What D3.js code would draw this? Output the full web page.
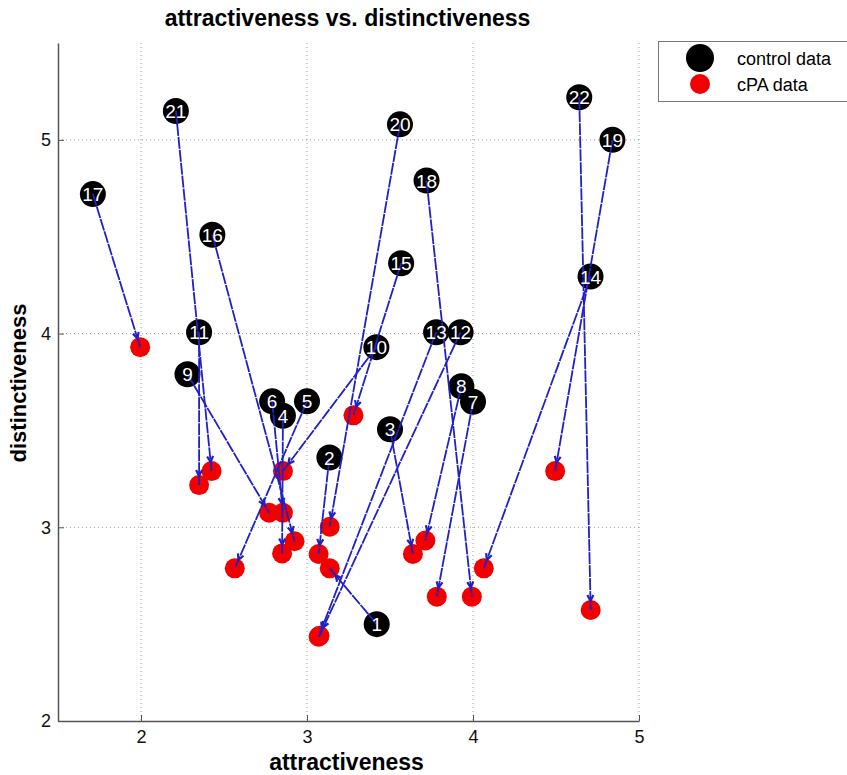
<!DOCTYPE html>
<html>
<head>
<meta charset="utf-8">
<script src="https://cdn.jsdelivr.net/npm/d3@7"></script>
<style>
  body { margin: 0; background: #fff; }
  text { font-family: "Liberation Sans", Arial, sans-serif; }
</style>
</head>
<body>
<svg id="chart" width="847" height="775"></svg>
<script>
// subject numbers
var ids = [1, 2, 3, 4, 5, 6, 7, 8, 9, 10, 11, 12, 13, 14, 15, 16, 17, 18, 19, 20, 21, 22];

// control data (black)
var controlX = [3.42, 3.135, 3.50, 2.855, 3.0, 2.79, 4.0, 3.93, 2.28, 3.418, 2.35,
                3.925, 3.778, 4.708, 3.567, 2.43, 1.71, 3.72, 4.84, 3.56, 2.21, 4.64];
var controlY = [2.50, 3.36, 3.506, 3.576, 3.65, 3.65, 3.648, 3.728, 3.79, 3.93, 4.007,
                4.007, 4.007, 4.294, 4.363, 4.51, 4.72, 4.79, 5.0, 5.08, 5.149, 5.22];

// cPA data (red)
var cpaX = [3.137, 3.07, 3.638, 2.85, 2.565, 2.855, 3.782, 3.713, 2.772, 2.855, 2.35,
            3.075, 3.07, 4.065, 3.28, 2.925, 1.995, 3.993, 4.495, 3.137, 2.425, 4.709];
var cpaY = [2.788, 2.862, 2.862, 2.865, 2.788, 3.075, 2.642, 2.932, 3.075, 3.29, 3.218,
            2.44, 2.435, 2.788, 3.578, 2.928, 3.93, 2.642, 3.29, 3.003, 3.29, 2.573];

var xTicks = [2, 3, 4, 5];
var yTicks = [2, 3, 4, 5];

var svg = d3.select("#chart"),
    LEFT = 58, RIGHT = 639, TOP = 43, BOTTOM = 721;

var x = d3.scaleLinear().domain([1.5, 5]).range([LEFT, RIGHT]);
var y = d3.scaleLinear().domain([2, 5.5]).range([BOTTOM, TOP]);

var data = ids.map(function (id, i) {
    return {id: id, cx: controlX[i], cy: controlY[i], px: cpaX[i], py: cpaY[i]};
});

// dotted grid
var grid = svg.append("g").attr("stroke", "#9a9a9a").attr("stroke-dasharray", "1,3");
grid.selectAll("line.v").data(xTicks).enter().append("line")
    .attr("x1", function (d) { return x(d); }).attr("x2", function (d) { return x(d); })
    .attr("y1", TOP).attr("y2", BOTTOM);
grid.selectAll("line.h").data(yTicks.filter(function (d) { return d > 2; })).enter().append("line")
    .attr("y1", function (d) { return y(d); }).attr("y2", function (d) { return y(d); })
    .attr("x1", LEFT).attr("x2", RIGHT);

// axes
var xAxis = svg.append("g")
    .attr("transform", "translate(0," + BOTTOM + ")")
    .call(d3.axisBottom(x).tickValues(xTicks).tickFormat(d3.format("d"))
        .tickSizeInner(-6).tickSizeOuter(0).tickPadding(9));
var yAxis = svg.append("g")
    .attr("transform", "translate(" + LEFT + ",0)")
    .call(d3.axisLeft(y).tickValues(yTicks).tickFormat(d3.format("d"))
        .tickSizeInner(-6).tickSizeOuter(0).tickPadding(7));

[xAxis, yAxis].forEach(function (a) {
    a.select(".domain").attr("stroke", "#555").attr("stroke-width", 1.5);
    a.selectAll(".tick line").attr("stroke", "#555");
    a.selectAll(".tick text").attr("font-size", 18).attr("fill", "#111")
        .style("font-family", "'Liberation Sans', Arial, sans-serif");
});

// points
svg.append("g").selectAll("circle").data(data).enter().append("circle")
    .attr("cx", function (d) { return x(d.cx); })
    .attr("cy", function (d) { return y(d.cy); })
    .attr("r", 13)
    .attr("fill", "#000");

svg.append("g").selectAll("circle").data(data).enter().append("circle")
    .attr("cx", function (d) { return x(d.px); })
    .attr("cy", function (d) { return y(d.py); })
    .attr("r", 10)
    .attr("fill", "#f20000");

// arrows control -> cPA
var BLUE = "#2020c8";
var arrows = svg.append("g").attr("stroke", BLUE).attr("fill", "none").attr("stroke-width", 1.8);
arrows.selectAll("line").data(data).enter().append("line")
    .attr("x1", function (d) { return x(d.cx); })
    .attr("y1", function (d) { return y(d.cy); })
    .attr("x2", function (d) { return x(d.px); })
    .attr("y2", function (d) { return y(d.py); })
    .attr("stroke-dasharray", "12,1");

arrows.selectAll("path").data(data).enter().append("path")
    .attr("stroke-width", 2.2)
    .attr("d", function (d) {
        var x0 = x(d.cx), y0 = y(d.cy), x1 = x(d.px), y1 = y(d.py),
            len = Math.sqrt((x1 - x0) * (x1 - x0) + (y1 - y0) * (y1 - y0)),
            ux = (x1 - x0) / len, uy = (y1 - y0) / len,
            tx = x1 - ux * 9, ty = y1 - uy * 9,
            bx = tx - ux * 6, by = ty - uy * 6;
        return "M" + (bx - uy * 3) + "," + (by + ux * 3) +
            "L" + tx + "," + ty +
            "L" + (bx + uy * 3) + "," + (by - ux * 3);
    });

// labels
svg.append("g").selectAll("text").data(data).enter().append("text")
    .attr("x", function (d) { return x(d.cx); })
    .attr("y", function (d) { return y(d.cy) + 7; })
    .attr("text-anchor", "middle")
    .attr("font-size", 19)
    .attr("fill", "#fff")
    .text(function (d) { return d.id; });

// titles
svg.append("text").attr("x", (LEFT + RIGHT) / 2 - 1).attr("y", 26)
    .attr("text-anchor", "middle").attr("font-size", 23).attr("font-weight", "bold")
    .text("attractiveness vs. distinctiveness");
svg.append("text").attr("x", (LEFT + RIGHT) / 2 - 2).attr("y", 770)
    .attr("text-anchor", "middle").attr("font-size", 23).attr("font-weight", "bold")
    .text("attractiveness");
svg.append("text").attr("transform", "translate(26," + ((TOP + BOTTOM) / 2 + 1) + ") rotate(-90)")
    .attr("text-anchor", "middle").attr("font-size", 22).attr("font-weight", "bold")
    .text("distinctiveness");

// legend
var legend = svg.append("g");
legend.append("rect").attr("x", 658.5).attr("y", 41.5).attr("width", 200).attr("height", 60)
    .attr("fill", "#fff").attr("stroke", "#777");
legend.append("circle").attr("cx", 700).attr("cy", 58).attr("r", 14).attr("fill", "#000");
legend.append("circle").attr("cx", 700).attr("cy", 84).attr("r", 10).attr("fill", "#f20000");
legend.append("text").attr("x", 737).attr("y", 65).attr("font-size", 18).text("control data");
legend.append("text").attr("x", 737).attr("y", 91).attr("font-size", 18).text("cPA data");
</script>
</body>
</html>
